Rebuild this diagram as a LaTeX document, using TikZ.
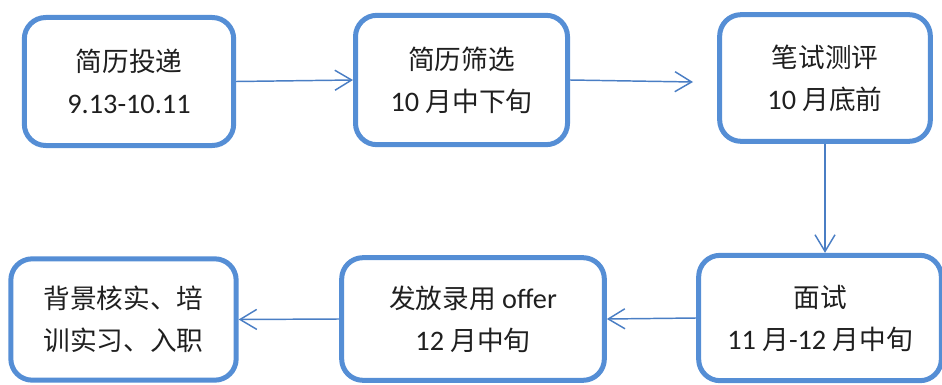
\documentclass[tikz,border=0pt]{standalone}
\usepackage{fontspec}
\setmainfont[Scale=1.06]{Carlito}
\newfontfamily\cjk{Noto Sans CJK SC}
\usetikzlibrary{arrows.meta}
\definecolor{boxblue}{RGB}{85,142,213}
\definecolor{lineblue}{RGB}{74,126,196}
\tikzset{
	stage/.style={draw=boxblue, line width=3.75pt, rounded corners=16pt, align=center, inner sep=0pt,
		text=black!88, font=\fontsize{20}{31.5}\selectfont},
	flow/.style={draw=lineblue, line width=1.1pt, -{Straight Barb[length=12.5pt,width=15pt]}}
}

\begin{document}
\begin{tikzpicture}[x=0.75pt, y=-0.75pt]
		%%%%% START %%%%%
		\useasboundingbox (0, 0) rectangle (942, 385);
		
		\node[stage, minimum width=157pt, minimum height=96pt] (resume) at (129, 81.5) {{\cjk 简历投递}\\9.13-10.11};
		\node[stage, minimum width=159pt, minimum height=97pt] (screen) at (461.5, 80) {{\cjk 简历筛选}\\10 {\cjk 月中下旬}};
		\node[stage, minimum width=158pt, minimum height=95pt] (test) at (825, 78) {{\cjk 笔试测评}\\10 {\cjk 月底前}};
		
		\node[stage, minimum width=182pt, minimum height=94pt] (interview) at (820, 318) {{\cjk 面试}\\11 {\cjk 月}-12 {\cjk 月中旬}};
		\node[stage, minimum width=197pt, minimum height=92pt] (offer) at (473, 319) {{\cjk 发放录用} offer\\12 {\cjk 月中旬}};
		\node[stage, minimum width=169pt, minimum height=91pt] (onboard) at (123.5, 319.5) {{\cjk 背景核实、培}\\{\cjk 训实习、入职}};
		
		\coordinate (testin) at (693, 82);
		
		\draw[flow] (resume.east) -- (screen.west);
		\draw[flow] (screen.east) -- (testin);
		\draw[flow] (test.south) -- (test.south |- interview.north);
		\draw[flow] (interview.west) -- (offer.east);
		\draw[flow] (offer.west) -- (onboard.east);
		%%%%% END %%%%%
\end{tikzpicture}
\end{document}
